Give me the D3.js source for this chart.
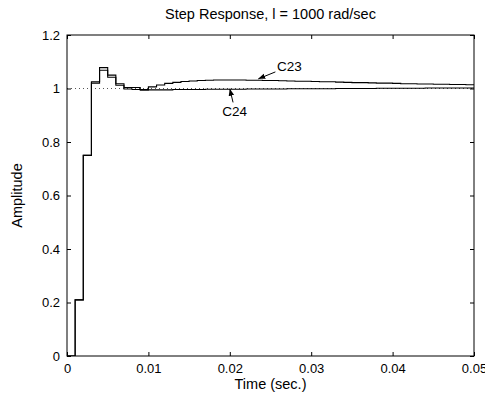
<!DOCTYPE html>
<html>
<head>
<meta charset="utf-8">
<script src="https://cdn.jsdelivr.net/npm/d3@7"></script>
<style>
  body { margin: 0; background: #fff; }
  svg { font-family: "Liberation Sans", Arial, sans-serif; }
</style>
</head>
<body>
<div id="chart"></div>
<script>
// sample period 0.001 s, samples k = 0..50
const sampleTime = 0.001;

const c23Values = [
  0, 0.21, 0.75, 1.025, 1.078, 1.05, 1.018, 1.004, 1.004, 0.996,
  1.006, 1.013, 1.019, 1.023, 1.026, 1.028, 1.030, 1.031, 1.032, 1.032,
  1.032, 1.032, 1.031, 1.031, 1.030, 1.030, 1.029, 1.028, 1.027, 1.027,
  1.026, 1.025, 1.025, 1.024, 1.023, 1.022, 1.022, 1.021, 1.020, 1.020,
  1.019, 1.018, 1.018, 1.017, 1.017, 1.016, 1.016, 1.015, 1.015, 1.014,
  1.014
];

const c24Values = [
  0, 0.21, 0.75, 1.02, 1.068, 1.042, 1.012, 0.998, 0.996, 0.994,
  0.995, 0.995, 0.995, 0.996, 0.996, 0.996, 0.996, 0.997, 0.997, 0.997,
  0.997, 0.997, 0.998, 0.998, 0.998, 0.998, 0.998, 0.999, 0.999, 0.999,
  0.999, 0.999, 0.999, 1.000, 1.000, 1.000, 1.000, 1.000, 1.001, 1.001,
  1.001, 1.001, 1.001, 1.001, 1.002, 1.002, 1.002, 1.002, 1.002, 1.002,
  1.002
];

const xTicks = [0, 0.01, 0.02, 0.03, 0.04, 0.05];
const xTickLabels = ['0', '0.01', '0.02', '0.03', '0.04', '0.05'];
const yTicks = [0, 0.2, 0.4, 0.6, 0.8, 1, 1.2];
const yTickLabels = ['0', '0.2', '0.4', '0.6', '0.8', '1', '1.2'];

// annotation: label position and arrow tail/tip, in data units
const labels = [
  { text: 'C23', tx: 0.0258, ty: 1.066, anchor: 'start', x1: 0.0256, y1: 1.062, x2: 0.0235, y2: 1.036 },
  { text: 'C24', tx: 0.0206, ty: 0.898, anchor: 'middle', x1: 0.0204, y1: 0.948, x2: 0.0200, y2: 0.999 }
];

const svgWidth = 485, svgHeight = 403;
const margin = { top: 35, right: 11, bottom: 47, left: 67 };
const width = svgWidth - margin.left - margin.right;
const height = svgHeight - margin.top - margin.bottom;

const svg = d3.select('#chart').append('svg')
  .attr('width', svgWidth)
  .attr('height', svgHeight);

const g = svg.append('g')
  .attr('transform', `translate(${margin.left}, ${margin.top})`);

const x = d3.scaleLinear().domain([0, 0.05]).range([0, width]);
const y = d3.scaleLinear().domain([0, 1.2]).range([height, 0]);

g.append('clipPath').attr('id', 'clip')
  .append('rect').attr('width', width).attr('height', height + 1).attr('y', -1);

// reference line at 1
g.append('line')
  .attr('x1', x(0)).attr('x2', x(0.05))
  .attr('y1', y(1)).attr('y2', y(1))
  .attr('stroke', '#555')
  .attr('stroke-width', 1)
  .attr('stroke-dasharray', '1,3');

const stairs = d3.line()
  .x((d, i) => x(i * sampleTime))
  .y(d => y(d))
  .curve(d3.curveStepAfter);

[c24Values, c23Values].forEach(vals => {
  g.append('path')
    .datum(vals.concat([vals[vals.length - 1]]))
    .attr('clip-path', 'url(#clip)')
    .attr('fill', 'none')
    .attr('stroke', '#000')
    .attr('stroke-width', 1.1)
    .attr('d', stairs);
});

// box and inward ticks
const tickLen = 4;
g.append('rect')
  .attr('width', width).attr('height', height)
  .attr('fill', 'none').attr('stroke', '#000').attr('stroke-width', 1);

const xAxisB = d3.axisBottom(x).tickValues(xTicks).tickSize(-tickLen)
  .tickFormat((d, i) => xTickLabels[i]).tickPadding(8);
const gx = g.append('g').attr('transform', `translate(0, ${height})`).call(xAxisB);
const xAxisT = d3.axisTop(x).tickValues(xTicks).tickSize(-tickLen).tickFormat('');
const gxt = g.append('g').call(xAxisT);

const yAxisL = d3.axisLeft(y).tickValues(yTicks).tickSize(-tickLen)
  .tickFormat((d, i) => yTickLabels[i]).tickPadding(7);
const gy = g.append('g').call(yAxisL);
const yAxisR = d3.axisRight(y).tickValues(yTicks).tickSize(-tickLen).tickFormat('');
const gyr = g.append('g').attr('transform', `translate(${width}, 0)`).call(yAxisR);

[gx, gxt, gy, gyr].forEach(a => {
  a.select('.domain').remove();
  a.selectAll('line').attr('stroke', '#000');
  a.selectAll('text').attr('fill', '#000')
    .style('font-size', '13px')
    .style('font-family', '"Liberation Sans", Arial, sans-serif');
});

// annotations
g.append('defs').append('marker')
  .attr('id', 'arrow')
  .attr('viewBox', '0 0 10 10')
  .attr('refX', 10).attr('refY', 5)
  .attr('markerWidth', 7).attr('markerHeight', 7)
  .attr('markerUnits', 'userSpaceOnUse')
  .attr('orient', 'auto')
  .append('path').attr('d', 'M0,1 L10,5 L0,9 Z').attr('fill', '#000');

labels.forEach(l => {
  g.append('line')
    .attr('x1', x(l.x1)).attr('y1', y(l.y1))
    .attr('x2', x(l.x2)).attr('y2', y(l.y2))
    .attr('stroke', '#000').attr('stroke-width', 1)
    .attr('marker-end', 'url(#arrow)');
  g.append('text')
    .attr('x', x(l.tx)).attr('y', y(l.ty))
    .attr('text-anchor', l.anchor)
    .style('font-size', '13.5px')
    .text(l.text);
});

// titles
svg.append('text')
  .attr('x', margin.left + width / 2).attr('y', 19)
  .attr('text-anchor', 'middle')
  .style('font-size', '14.5px')
  .text('Step Response, l = 1000 rad/sec');

svg.append('text')
  .attr('x', margin.left + width / 2).attr('y', svgHeight - 14)
  .attr('text-anchor', 'middle')
  .style('font-size', '14.5px')
  .text('Time (sec.)');

svg.append('text')
  .attr('transform', `translate(22, ${margin.top + height / 2}) rotate(-90)`)
  .attr('text-anchor', 'middle')
  .style('font-size', '14.5px')
  .text('Amplitude');
</script>
</body>
</html>
